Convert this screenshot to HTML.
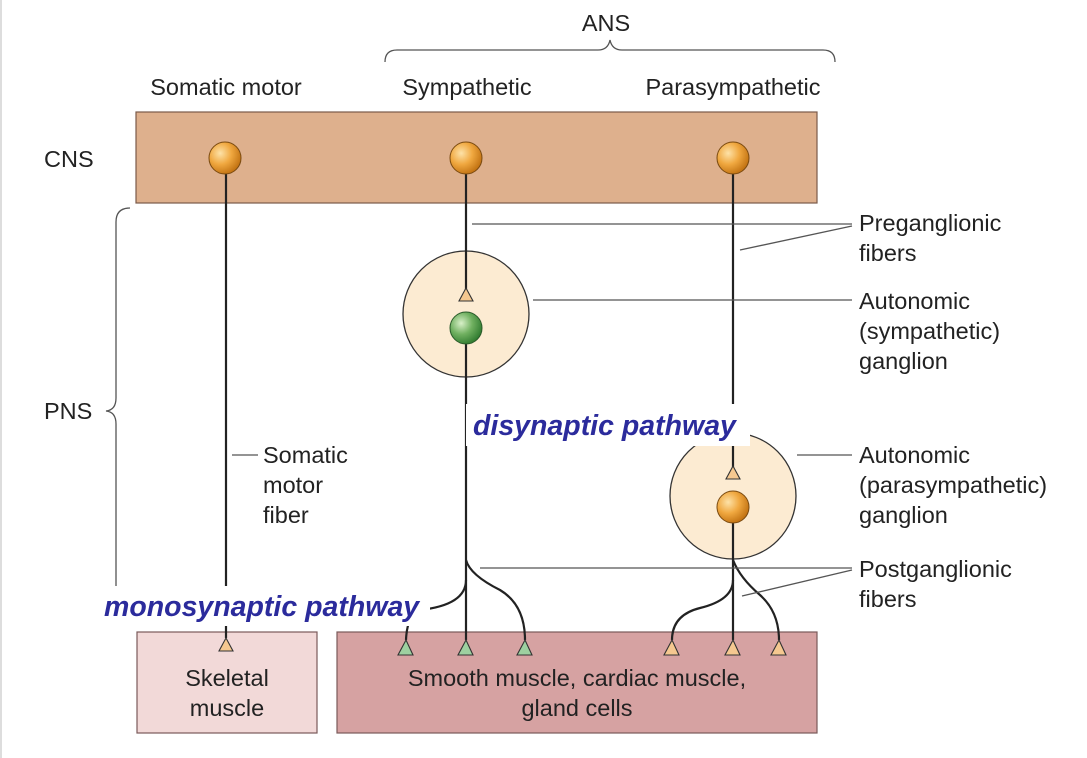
<!DOCTYPE html>
<html><head><meta charset="utf-8"><style>
html,body{margin:0;padding:0;background:#fff;}
svg{display:block;font-family:"Liberation Sans",sans-serif;}
</style></head><body>
<svg width="1087" height="758" viewBox="0 0 1087 758">
<defs>
<radialGradient id="og" cx="0.35" cy="0.35" r="0.7"><stop offset="0" stop-color="#fde2a8"/><stop offset="0.5" stop-color="#f0a840"/><stop offset="1" stop-color="#c07010"/></radialGradient>
<radialGradient id="gg" cx="0.35" cy="0.35" r="0.7"><stop offset="0" stop-color="#d8f0c8"/><stop offset="0.5" stop-color="#70b060"/><stop offset="1" stop-color="#2f7a2f"/></radialGradient>
</defs>
<rect x="0" y="0" width="2" height="758" fill="#ddd"/>
<g fill="none" stroke="#555" stroke-width="1.3">
<path d="M385,62 Q385,50 397,50 L598,50 Q608,50 610,40 Q612,50 622,50 L823,50 Q835,50 835,62"/>
</g>
<g font-size="23.5" fill="#222">
<text x="606" y="31" text-anchor="middle">ANS</text>
<text x="226" y="95" text-anchor="middle">Somatic motor</text>
<text x="467" y="95" text-anchor="middle">Sympathetic</text>
<text x="733" y="95" text-anchor="middle">Parasympathetic</text>
<text x="44" y="167">CNS</text>
<text x="44" y="419">PNS</text>
</g>
<rect x="136" y="112" width="681" height="91" fill="#deb08d" stroke="#7a5a4a" stroke-width="1.2"/>
<path d="M130,208 Q116,208 116,222 L116,398 Q116,410 106,411 Q116,412 116,424 L116,595 Q116,607 130,607" fill="none" stroke="#555" stroke-width="1.3"/>
<circle cx="466" cy="314" r="63" fill="#fcebd2" stroke="#333" stroke-width="1.3"/>
<circle cx="733" cy="496" r="63" fill="#fcebd2" stroke="#333" stroke-width="1.3"/>
<rect x="137" y="632" width="180" height="101" fill="#f2d9d8" stroke="#7a5a5a" stroke-width="1.2"/>
<rect x="337" y="632" width="480" height="101" fill="#d6a2a2" stroke="#7a5a5a" stroke-width="1.2"/>
<g fill="none" stroke="#222" stroke-width="2.2">
<line x1="226" y1="170" x2="226" y2="638"/>
<line x1="466" y1="170" x2="466" y2="290"/>
<line x1="466" y1="340" x2="466" y2="640"/>
<path d="M466,580 Q466,605 420,610 Q407,615 406,640"/>
<path d="M466,560 Q470,575 500,590 Q525,605 525,640"/>
<line x1="733" y1="170" x2="733" y2="468"/>
<line x1="733" y1="515" x2="733" y2="640"/>
<path d="M733,580 Q733,600 700,608 Q672,615 672,640"/>
<path d="M733,560 Q740,578 760,595 Q779,612 779,640"/>
</g>
<circle cx="225" cy="158" r="16" fill="url(#og)" stroke="#7a4a10"/>
<circle cx="466" cy="158" r="16" fill="url(#og)" stroke="#7a4a10"/>
<circle cx="733" cy="158" r="16" fill="url(#og)" stroke="#7a4a10"/>
<circle cx="466" cy="328" r="16" fill="url(#gg)" stroke="#2a5a2a"/>
<circle cx="733" cy="507" r="16" fill="url(#og)" stroke="#7a4a10"/>
<g stroke="#333" stroke-width="1.1">
<polygon points="226,638 219,651 233,651" fill="#f5c890"/>
<polygon points="466,288 459,301 473,301" fill="#f5c890"/>
<polygon points="733,466 726,479 740,479" fill="#f5c890"/>
<polygon points="406,640 398,655 413,655" fill="#9dd0a0"/>
<polygon points="466,640 458,655 473,655" fill="#9dd0a0"/>
<polygon points="525,640 517,655 532,655" fill="#9dd0a0"/>
<polygon points="672,640 664,655 679,655" fill="#f5c890"/>
<polygon points="733,640 725,655 740,655" fill="#f5c890"/>
<polygon points="779,640 771,655 786,655" fill="#f5c890"/>
</g>
<g stroke="#555" stroke-width="1.3">
<line x1="472" y1="224" x2="852" y2="224"/>
<line x1="740" y1="250" x2="852" y2="226"/>
<line x1="533" y1="300" x2="852" y2="300"/>
<line x1="797" y1="455" x2="852" y2="455"/>
<line x1="480" y1="568" x2="852" y2="568"/>
<line x1="742" y1="596" x2="852" y2="570"/>
<line x1="232" y1="455" x2="258" y2="455"/>
</g>
<g font-size="23.5" fill="#222">
<text x="859" y="231"><tspan x="859">Preganglionic</tspan><tspan x="859" dy="30">fibers</tspan></text>
<text x="859" y="309"><tspan x="859">Autonomic</tspan><tspan x="859" dy="30">(sympathetic)</tspan><tspan x="859" dy="30">ganglion</tspan></text>
<text x="859" y="463"><tspan x="859">Autonomic</tspan><tspan x="859" dy="30">(parasympathetic)</tspan><tspan x="859" dy="30">ganglion</tspan></text>
<text x="859" y="577"><tspan x="859">Postganglionic</tspan><tspan x="859" dy="30">fibers</tspan></text>
<text x="263" y="463"><tspan x="263">Somatic</tspan><tspan x="263" dy="30">motor</tspan><tspan x="263" dy="30">fiber</tspan></text>
<text x="227" y="686" text-anchor="middle"><tspan x="227">Skeletal</tspan><tspan x="227" dy="30">muscle</tspan></text>
<text x="577" y="686" text-anchor="middle"><tspan x="577">Smooth muscle, cardiac muscle,</tspan><tspan x="577" dy="30">gland cells</tspan></text>
</g>
<rect x="466" y="404" width="284" height="42" fill="#fff"/>
<text x="473" y="435" font-size="28.5" font-weight="bold" font-style="italic" fill="#2b2b9c">disynaptic pathway</text>
<rect x="98" y="586" width="332" height="40" fill="#fff"/>
<text x="104" y="616" font-size="28.5" font-weight="bold" font-style="italic" fill="#2b2b9c">monosynaptic pathway</text>
</svg>
</body></html>
